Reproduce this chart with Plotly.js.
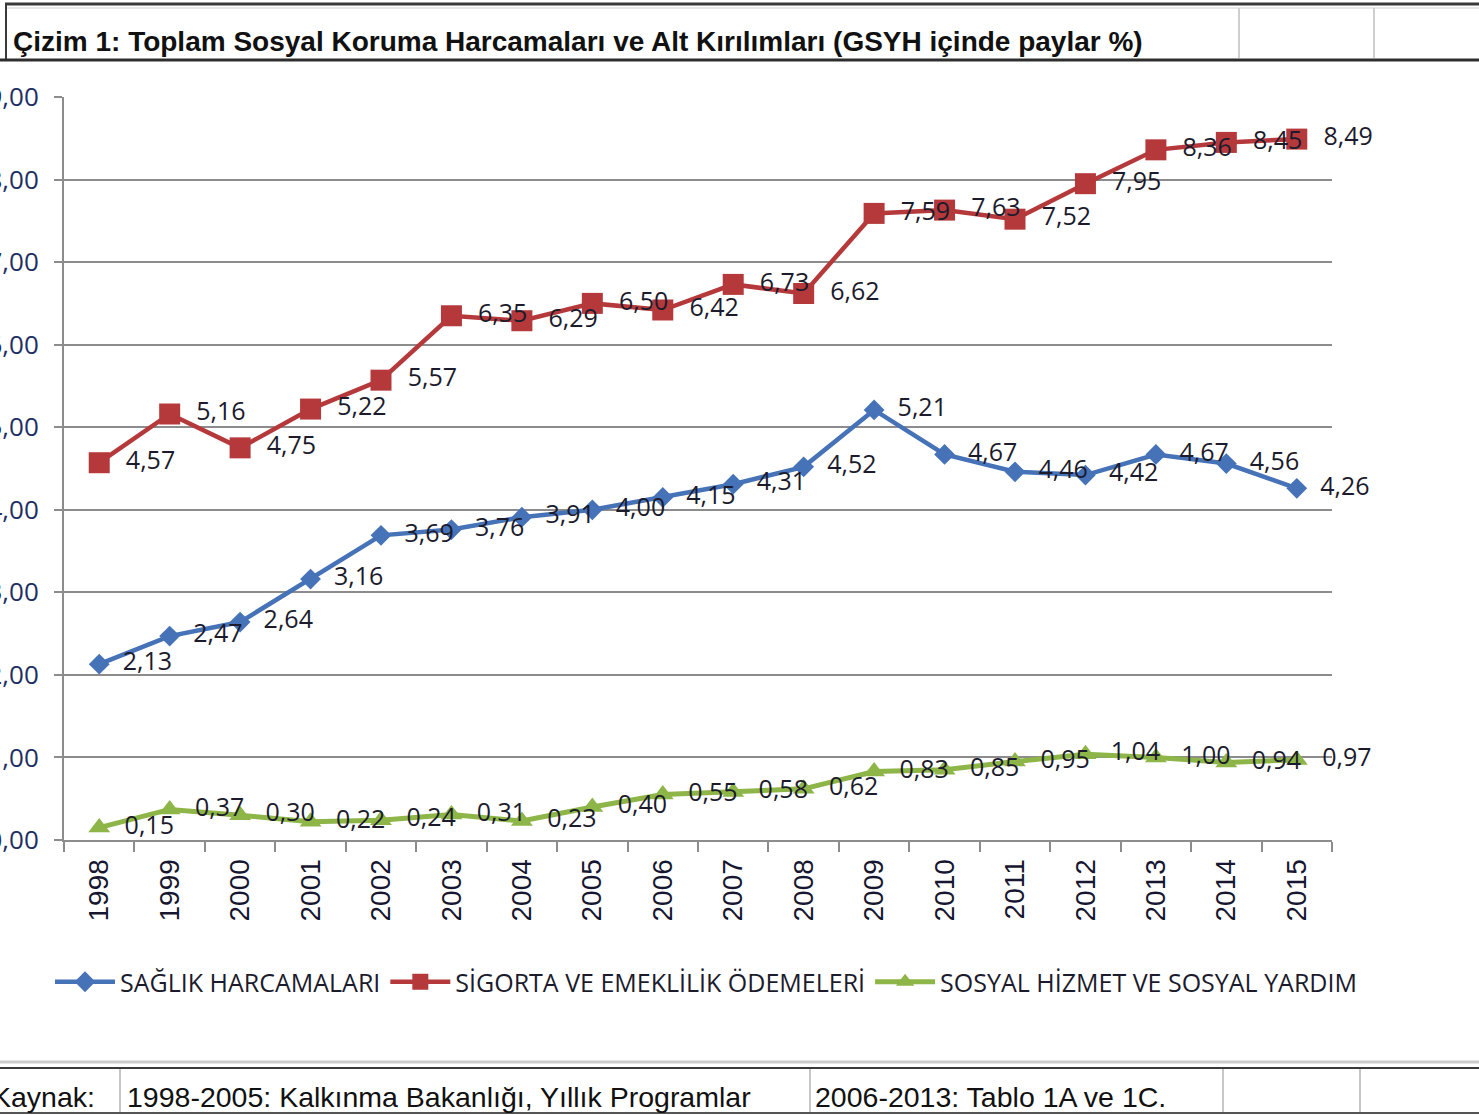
<!DOCTYPE html>
<html><head><meta charset="utf-8">
<script src="https://cdn.plot.ly/plotly-3.0.1.min.js"></script>
<style>html,body{margin:0;padding:0;background:#fff;}#chart{width:1479px;height:1115px;}</style>
</head><body><div id="chart"></div>
<script>
const years = ['1998','1999','2000','2001','2002','2003','2004','2005','2006','2007','2008','2009','2010','2011','2012','2013','2014','2015'];
const saglik = [2.13,2.47,2.64,3.16,3.69,3.76,3.91,4.00,4.15,4.31,4.52,5.21,4.67,4.46,4.42,4.67,4.56,4.26];
const sigorta = [4.57,5.16,4.75,5.22,5.57,6.35,6.29,6.50,6.42,6.73,6.62,7.59,7.63,7.52,7.95,8.36,8.45,8.49];
const sosyal = [0.15,0.37,0.30,0.22,0.24,0.31,0.23,0.40,0.55,0.58,0.62,0.83,0.85,0.95,1.04,1.00,0.94,0.97];
const seriesNames = ['SAĞLIK HARCAMALARI','SİGORTA VE EMEKLİLİK ÖDEMELERİ','SOSYAL HİZMET VE SOSYAL YARDIM'];
const titleText = 'Çizim 1: Toplam Sosyal Koruma Harcamaları ve Alt Kırılımları (GSYH içinde paylar %)';
const sourceTexts = ['Kaynak:','1998-2005: Kalkınma Bakanlığı, Yıllık Programlar','2006-2013: Tablo 1A ve 1C.'];

const W = 1479, H = 1115;
const L = 64, R = 1332, T = 97, B = 840;
const px = x => (x - L) / (R - L);
const py = y => (B - y) / (B - T);
const fmt = v => '\u2002' + v.toFixed(2).replace('.', ',');
const labelFont = {family: 'Open Sans, DejaVu Sans, sans-serif', size: 25, color: '#1b1b2c'};

function trace(vals, name, color, symbol, size, lw) {
  return {
    x: years, y: vals, name: name, type: 'scatter', mode: 'lines+markers+text',
    line: {color: color, width: lw},
    marker: {color: color, symbol: symbol, size: size},
    text: vals.map(fmt), textposition: 'middle right', textfont: labelFont,
    cliponaxis: false, hoverinfo: 'x+y'
  };
}

const data = [
  trace(saglik, seriesNames[0], '#4672B8', 'diamond', 16, 4.5),
  trace(sigorta, seriesNames[1], '#B5393B', 'square', 21, 4.5),
  trace(sosyal, seriesNames[2], '#8DB547', 'triangle-up', 19, 5)
];

function hline(y, x0, x1, color, w) {
  return {type: 'line', xref: 'paper', yref: 'paper', x0: px(x0), x1: px(x1), y0: py(y), y1: py(y), line: {color: color, width: w}};
}
function vline(x, y0, y1, color, w) {
  return {type: 'line', xref: 'paper', yref: 'paper', x0: px(x), x1: px(x), y0: py(y0), y1: py(y1), line: {color: color, width: w}};
}

const shapes = [
  hline(4, 5, W, '#3a3a3a', 3),
  hline(8, 5, W, '#cfcfcf', 1),
  vline(6, 4, 60, '#3a3a3a', 2),
  hline(60, 0, W, '#2e2e2e', 3),
  vline(1239, 8, 58, '#cfcfcf', 2),
  vline(1374, 8, 58, '#cfcfcf', 2),
  hline(1062, 0, W, '#cccccc', 3),
  hline(1068, 0, W, '#3a3a3a', 2),
  hline(1113, 0, W, '#555555', 2),
  vline(120, 1069, 1112, '#c8c8c8', 2),
  vline(810, 1069, 1112, '#c8c8c8', 2),
  vline(1223, 1069, 1112, '#c8c8c8', 2),
  vline(1360, 1069, 1112, '#c8c8c8', 2)
];

const annFont = {family: 'Liberation Sans, Arial, sans-serif', size: 28.5, color: '#111111'};
const annotations = [
  {xref: 'paper', yref: 'paper', x: px(11), y: py(42), xanchor: 'left', yanchor: 'middle', showarrow: false,
   text: '<b>' + titleText + '</b>', font: {family: 'Liberation Sans, Arial, sans-serif', size: 28, color: '#111111'}},
  {xref: 'paper', yref: 'paper', x: px(-10), y: py(1097), xanchor: 'left', yanchor: 'middle', showarrow: false, text: sourceTexts[0], font: annFont},
  {xref: 'paper', yref: 'paper', x: px(125), y: py(1097), xanchor: 'left', yanchor: 'middle', showarrow: false, text: sourceTexts[1], font: annFont},
  {xref: 'paper', yref: 'paper', x: px(813), y: py(1097), xanchor: 'left', yanchor: 'middle', showarrow: false, text: sourceTexts[2], font: annFont}
];

const layout = {
  width: W, height: H,
  margin: {l: L, r: W - R, t: T, b: H - B, pad: 0},
  paper_bgcolor: '#ffffff', plot_bgcolor: '#ffffff',
  separators: ',.',
  showlegend: true,
  legend: {orientation: 'h', x: px(50), y: py(982), xanchor: 'left', yanchor: 'middle',
    font: {family: 'Open Sans, DejaVu Sans, sans-serif', size: 25, color: '#1b1b2c'}, itemwidth: 60, tracegroupgap: 0},
  xaxis: {type: 'category', range: [-0.5, 17.5], tickson: 'boundaries', ticks: 'outside', ticklen: 10, tickwidth: 2,
    tickcolor: '#8c8c8c', showline: true, linecolor: '#8c8c8c', linewidth: 2, showgrid: false, zeroline: false,
    ticklabelstandoff: 6,
    tickangle: -90, tickfont: {family: 'Liberation Sans, Arial, sans-serif', size: 28, color: '#161630'}, fixedrange: true},
  yaxis: {range: [0, 9], tickvals: [0,1,2,3,4,5,6,7,8,9], tickformat: '.2f', ticks: 'outside', ticklen: 8, tickwidth: 2,
    tickcolor: '#8c8c8c', showline: true, linecolor: '#8c8c8c', linewidth: 2, showgrid: true, gridcolor: '#8c8c8c', gridwidth: 2,
    zeroline: false, ticklabelstandoff: 10, tickfont: {family: 'Open Sans, DejaVu Sans, sans-serif', size: 26, color: '#1d2f63'}, fixedrange: true},
  shapes: shapes,
  annotations: annotations
};

Plotly.newPlot('chart', data, layout, {displayModeBar: false, staticPlot: true});
</script></body></html>
